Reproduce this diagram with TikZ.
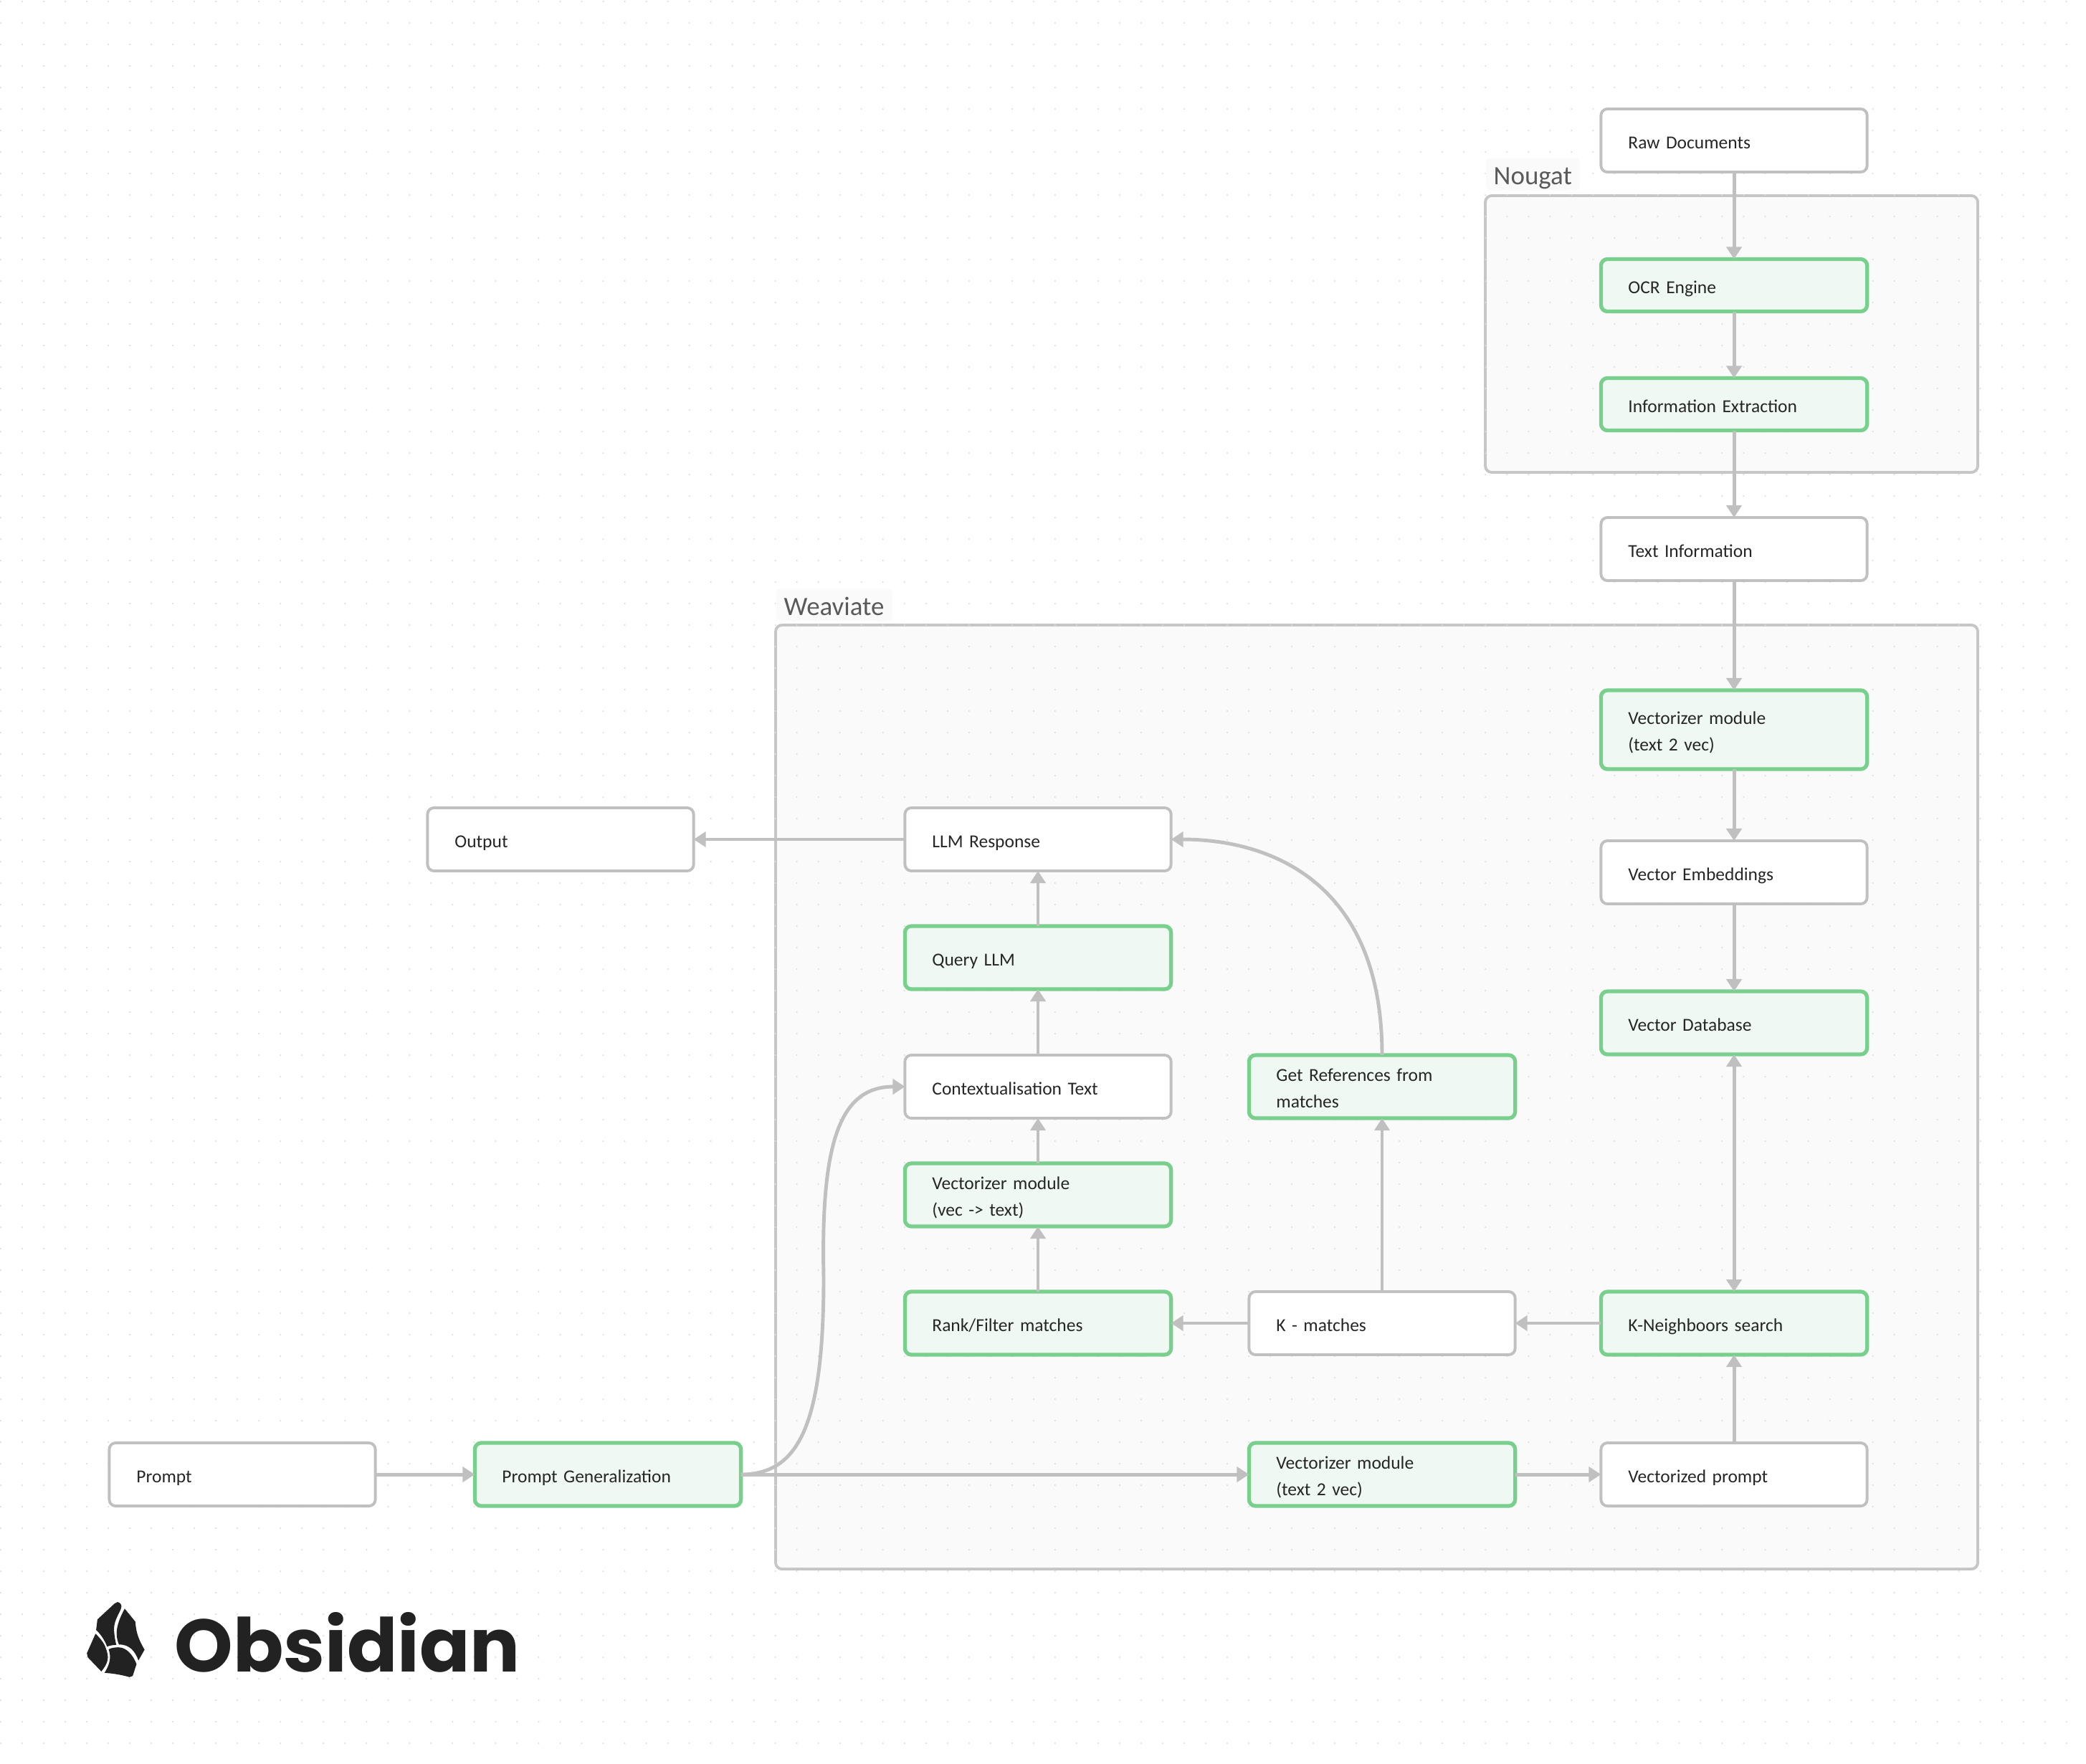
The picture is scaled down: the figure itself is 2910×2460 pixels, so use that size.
\documentclass[tikz,border=0pt]{standalone}
\usepackage{fontspec}
\usetikzlibrary{arrows.meta}
\setmainfont{Carlito}
\newfontfamily\logofont{Poppins}
\definecolor{edgegray}{HTML}{C0C0C0}
\definecolor{groupgray}{HTML}{C6C6C6}
\definecolor{groupfill}{HTML}{FAFAFA}
\definecolor{labelgray}{HTML}{5A5A5A}
\definecolor{dotgray}{HTML}{DEDEDE}
\definecolor{greenline}{HTML}{78D08C}
\definecolor{greenfill}{HTML}{EFF8F2}
\definecolor{logoblack}{HTML}{222222}
\tikzset{
  plainbox/.style={draw=edgegray,line width=1.1pt,fill=white,rounded corners=0.09cm,outer sep=0pt,
    minimum width=3.71cm,minimum height=0.88cm,text width=2.95cm,inner xsep=0.38cm,inner ysep=0pt,
    align=left,text=black!85,font=\fontsize{7.25}{10.5}\selectfont,
    execute at begin node={\rule{0pt}{9.6pt}},execute at end node=\strut},
  greenbox/.style={plainbox,draw=greenline,line width=1.5pt,fill=greenfill},
  groupbox/.style={draw=groupgray,line width=1.1pt,fill=groupfill,rounded corners=0.09cm},
  grouplabel/.style={fill=groupfill,rounded corners=0.05cm,anchor=west,inner xsep=0.11cm,inner ysep=0pt,
    text height=10.4pt,text depth=2.4pt,text=labelgray,font=\fontsize{10.5}{12}\selectfont},
  griddot/.style={dotgray,line width=0.025cm,line cap=round,dash pattern=on 0pt off 0.3cm},
  edge/.style={->,edgegray,line width=1.4pt},
  logopiece/.style={fill=logoblack,draw=none}
}
\begin{document}
\begin{tikzpicture}[x=0.01cm,y=-0.01cm,>={Triangle[length=0.17cm,width=0.21cm]}]
\useasboundingbox (0,0) rectangle (2910,2460);
% groups
\draw[groupbox] (2072,273) rectangle (2759,659);
\draw[groupbox] (1082,872) rectangle (2759,2189);
% dots
\foreach \y in {2,32,...,2460} {
  \draw[griddot] (1,\y) -- (2910,\y);
}
\node[grouplabel] (nougat) at (2072,243) {Nougat};
\node[grouplabel] (weaviate) at (1082,844) {Weaviate};
% right column
\node[plainbox] (raw) at (2419,196) {Raw Documents};
\node[greenbox,minimum height=0.73cm] (ocr) at (2419,398) {OCR Engine};
\node[greenbox,minimum height=0.73cm] (info) at (2419,564) {Information Extraction};
\node[plainbox] (text) at (2419,766) {Text Information};
\node[greenbox,minimum height=1.1cm] (vecone) at (2419,1018) {Vectorizer module\\(text 2 vec)};
\node[plainbox] (embed) at (2419,1217) {Vector Embeddings};
\node[greenbox] (vecdb) at (2419,1427) {Vector Database};
\node[greenbox] (kneigh) at (2419,1846) {K-Neighboors search};
\node[plainbox] (vecprompt) at (2419,2057) {Vectorized prompt};
% middle column
\node[greenbox] (refs) at (1928,1516) {Get References from\\matches};
\node[plainbox] (kmatch) at (1928,1846) {K - matches};
\node[greenbox] (vectwo) at (1928,2057) {Vectorizer module\\(text 2 vec)};
% left column
\node[plainbox] (llm) at (1448,1171) {LLM Response};
\node[greenbox] (query) at (1448,1336) {Query LLM};
\node[plainbox] (context) at (1448,1516) {Contextualisation Text};
\node[greenbox] (vecback) at (1448,1667) {Vectorizer module\\(vec -> text)};
\node[greenbox] (rank) at (1448,1846) {Rank/Filter matches};
% outside
\node[plainbox] (output) at (782,1171) {Output};
\node[plainbox] (prompt) at (338,2057) {Prompt};
\node[greenbox] (promptgen) at (848,2057) {Prompt Generalization};
\coordinate (bend) at (1149,1782);
% edges
\draw[edge] (raw) -- (ocr);
\draw[edge] (ocr) -- (info);
\draw[edge] (info) -- (text);
\draw[edge] (text) -- (vecone);
\draw[edge] (vecone) -- (embed);
\draw[edge] (embed) -- (vecdb);
\draw[edge,<->] (vecdb) -- (kneigh);
\draw[edge] (vecprompt) -- (kneigh);
\draw[edge] (kneigh) -- (kmatch);
\draw[edge] (kmatch) -- (rank);
\draw[edge] (kmatch) -- (refs);
\draw[edge] (rank) -- (vecback);
\draw[edge] (vecback) -- (context);
\draw[edge] (context) -- (query);
\draw[edge] (query) -- (llm);
\draw[edge] (llm) -- (output);
\draw[edge] (prompt) -- (promptgen);
\draw[edge] (promptgen) -- (vectwo);
\draw[edge] (vectwo) -- (vecprompt);
\draw[edge] (refs.north) .. controls (1928,1225) and (1765,1171) .. (llm.east);
\draw[edge] (promptgen.east) .. controls (1115,2057) and (1149,1986) .. (bend) .. controls (1145,1597) and (1170,1516) .. (context.west);
% logo
\begin{scope}[shift={(80,2200)},x=0.004464cm,y=-0.003333cm]
\fill[logopiece] (188,105) .. controls (198,108) and (203,120) .. (198,135) .. controls (188,165) and (175,190) .. (177,225) .. controls (178,250) and (181,270) .. (184,285) .. controls (172,285) and (163,288) .. (155,292) .. controls (148,265) and (135,240) .. (121,222) -- (125,178) -- (178,112) -- cycle;
\fill[logopiece] (210,133) -- (243,187) .. controls (246,225) and (248,250) .. (272,305) -- (253,350) .. controls (242,310) and (225,283) .. (192,283) .. controls (178,240) and (185,195) .. (210,133) -- cycle;
\fill[logopiece] (119,238) .. controls (135,258) and (147,280) .. (151,298) .. controls (162,335) and (160,360) .. (137,396) -- (95,337) -- (92,320) -- cycle;
\fill[logopiece] (160,303) .. controls (170,297) and (180,295) .. (190,295) .. controls (215,295) and (235,325) .. (247,365) -- (235,415) -- (225,420) .. controls (205,412) and (180,405) .. (147,402) .. controls (165,365) and (168,335) .. (160,303) -- cycle;
\end{scope}
\node[anchor=west,inner sep=0pt,text=logoblack,font=\logofont\bfseries\fontsize{29.5}{34}\selectfont] (obsidian) at (243,2291) {Obsidian};
\end{tikzpicture}
\end{document}
